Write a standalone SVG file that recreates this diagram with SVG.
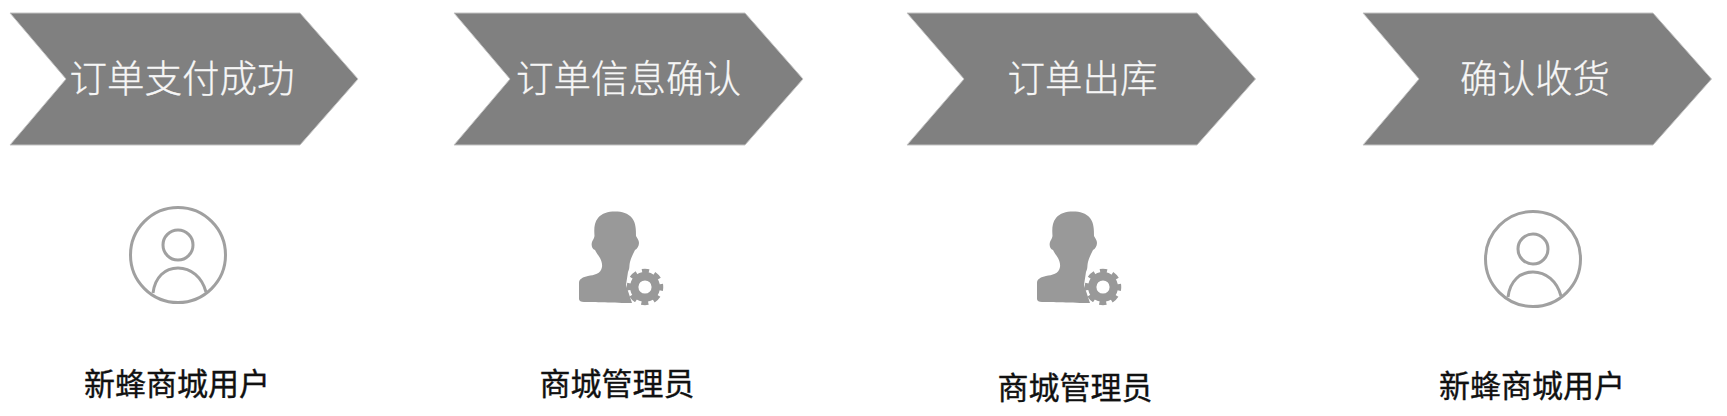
<svg xmlns="http://www.w3.org/2000/svg" width="1727" height="416" viewBox="0 0 1727 416">
<style>
.chev{fill:#808080;stroke:#c4c4c4;stroke-width:1;stroke-linejoin:round}
.t{font-family:"Noto Sans CJK SC","Noto Sans",sans-serif;text-anchor:middle}
.step{font-size:37.500px;font-weight:300;fill:#f6f6f6;stroke:#f6f6f6;stroke-width:.3px}
.role{font-size:31px;fill:#111;stroke:#111;stroke-width:.35px}
.ln{fill:none;stroke:#a0a0a0;stroke-width:3}
</style>
<defs>
<filter id="soft" x="-5%" y="-5%" width="110%" height="110%"><feGaussianBlur stdDeviation=".6"/></filter>
<g id="user">
<circle class="ln" cx="178" cy="255" r="47.500"/>
<circle class="ln" cx="178" cy="245" r="15"/>
<path class="ln" d="M153 293C155 277 165 268 178 268C191 268 202 277 206 292"/>
</g>
<g id="admin" filter="url(#soft)">
<path fill="#999" d="M579 299V283C579 279 583 277 588 276C594 275 601 274 602 267C602.500 263 601 260 600 258C598 255 596 252 595 250C592 249 591 245 592 242C592.500 240 594 239 594.500 236C594 229 594 223 598 218C602 213 608 211.500 615 211.500C622 211.500 628 213 632 218C636 223 636 230 636 236C637 238 639 240 639 243C639 246 637 249 635 250C633 254 631 258 630 262C629 266 630 268 628 272L626 285L632 303C615 303 592 302 584 302C581 302 579 301 579 299Z"/>
<circle cx="645" cy="287" r="10.800" fill="none" stroke="#999" stroke-width="8.400"/>
<circle cx="645" cy="287" r="16" fill="none" stroke="#999" stroke-width="4.500" stroke-dasharray="7 5.566" stroke-dashoffset="3.500"/>
</g>
</defs>
<rect width="1727" height="416" fill="#fff"/>
<g id="connectors"/>
<g id="step1"><path class="chev" d="M10 13H300L358 79L300 145H10L66 79Z"/><text class="t step" x="182" y="92">订单支付成功</text></g>
<g id="step2"><path class="chev" d="M454 13H745L803 79L745 145H454L510 79Z"/><text class="t step" x="628.500" y="92">订单信息确认</text></g>
<g id="step3"><path class="chev" d="M907 13H1197L1255.500 79L1197 145H907L964 79Z"/><text class="t step" x="1082.500" y="92">订单出库</text></g>
<g id="step4"><path class="chev" d="M1363 13H1653L1711.500 79L1653 145H1363L1419 79Z"/><text class="t step" x="1535" y="92">确认收货</text></g>
<g id="role1"><use href="#user"/><text class="t role" x="177" y="395">新蜂商城用户</text></g>
<g id="role2"><use href="#admin"/><text class="t role" x="617" y="395">商城管理员</text></g>
<g id="role3"><use href="#admin" x="458"/><text class="t role" x="1075" y="399">商城管理员</text></g>
<g id="role4"><use href="#user" x="1355" y="4"/><text class="t role" x="1532" y="397">新蜂商城用户</text></g>
</svg>
